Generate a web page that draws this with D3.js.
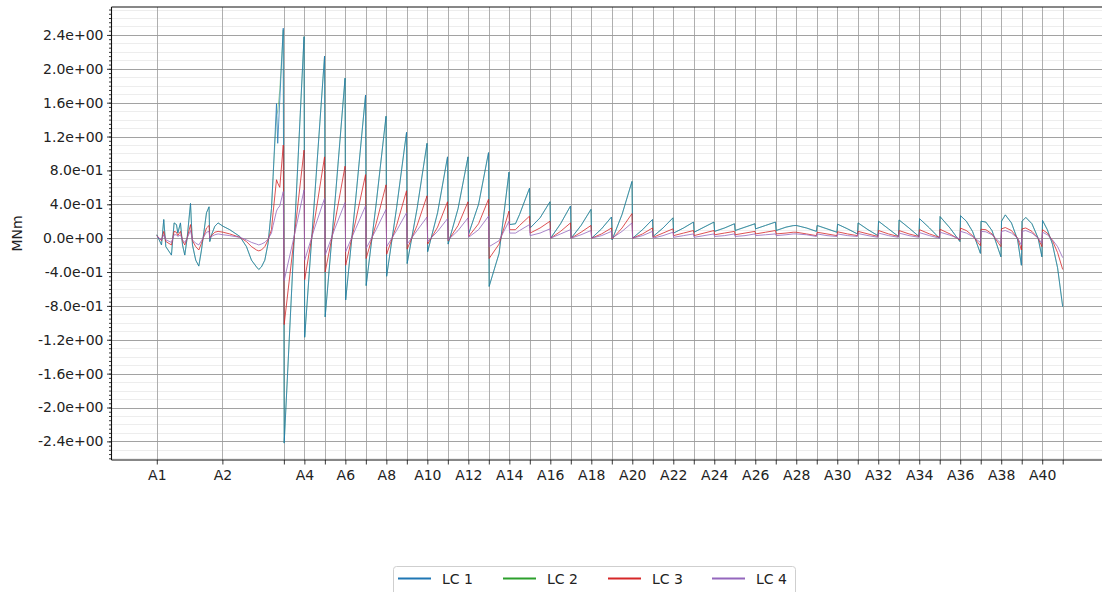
<!DOCTYPE html>
<html><head><meta charset="utf-8">
<script src="https://cdn.jsdelivr.net/npm/d3@7"></script>
<style>html,body{margin:0;padding:0;background:#fff;} svg{display:block;font-family:"DejaVu Sans",sans-serif;}</style>
</head><body><svg id="c" width="1102" height="592"></svg>
<script>
// ---------- data ----------
const supportLabels = ["A1","A2","A3","A4","A5","A6","A7","A8","A9","A10","A11","A12","A13","A14","A15","A16","A17","A18","A19","A20","A21","A22","A23","A24","A25","A26","A27","A28","A29","A30","A31","A32","A33","A34","A35","A36","A37","A38","A39","A40","A41"];
const supportX = [0,64,124,144,164,184,204,224,244,264,284,304,324,344,364,384,404,424,444,464,484,504,524,544,564,584,604,624,644,664,684,704,724,744,764,784,804,824,844,864,884];
const labeledSupports = ["A1","A2","A4","A6","A8","A10","A12","A14","A16","A18","A20","A22","A24","A26","A28","A30","A32","A34","A36","A38","A40"];
const yTickValues = [-2.4,-2.0,-1.6,-1.2,-0.8,-0.4,0,0.4,0.8,1.2,1.6,2.0,2.4];
const seriesNames = ["LC 1","LC 2","LC 3","LC 4"];
const seriesColors = ["#1f77b4","#2ca02c","#d62728","#9467bd"];

// chainage (m) of the result points
const chainage = [
 0,4.6,6.8,8.8,14.3,16.9,19.2,20.5,23.1,25.1,27.3,29.6,32.9,34.8,38.0,41.0,43.6,48.5,51.0,51.7,53.4,56.6,59.8,64.7,71.2,81.0,87.5,92.4,97.3,99.5,102.1,105.4,108.6,111.9,113.5,116.8,118.0,120.0,123.4,
 124.3,134,143.7,144.3,154,163.7,164.3,174,183.7,184.3,194,203.7,204.3,214,223.7,224.3,234,243.7,244.3,254,263.7,264.3,274,283.7,284.3,294,303.7,304.3,314,323.7,324.3,334,343.7,
 344.3,350,354,363.7,364.3,374,383.7,384.3,394,403.7,404.3,414,423.7,424.3,434,443.7,444.3,454,463.7,464.3,474,483.7,484.3,494,503.7,504.3,514,523.7,524.3,534,543.7,544.3,554,563.7,564.3,574,583.7,584.3,594,603.7,604.3,614,621,624,
 634,643.7,644.3,654,663.7,664.3,674,683.7,684.3,694,703.7,704.3,714,723.7,724.3,734,743.7,744.3,754,763.7,764.3,774,783.7,784.3,790,796,803.7,804.3,809,815,823.7,824.3,828,834,840,843.7,844.3,848,854,860,863.7,864.3,869,874,879,884
];
const lc1 = [
 0.04,-0.08,0.22,-0.10,-0.20,0.18,0.16,0.06,0.18,-0.08,-0.20,0.00,0.41,-0.08,-0.26,-0.33,-0.14,0.30,0.37,-0.04,0.04,0.14,0.18,0.14,0.10,0.02,-0.10,-0.26,-0.34,-0.37,-0.34,-0.26,-0.06,0.35,0.73,1.59,1.12,1.63,2.48,
 -2.42,-0.02,2.38,-1.17,0.48,2.15,-0.93,0.45,1.89,-0.73,0.45,1.69,-0.56,0.40,1.44,-0.45,0.36,1.25,-0.30,0.35,1.12,-0.16,0.30,0.96,-0.07,0.35,0.96,0.05,0.40,1.01,-0.57,-0.18,0.78,
 0.16,0.17,0.28,0.59,0.12,0.24,0.43,0.00,0.17,0.38,0.00,0.15,0.34,0.00,0.11,0.25,-0.02,0.28,0.67,0.00,0.10,0.22,0.02,0.12,0.24,0.06,0.12,0.19,0.07,0.13,0.19,0.08,0.12,0.17,0.09,0.13,0.17,0.11,0.15,0.19,0.09,0.13,0.148,0.15,
 0.12,0.08,0.15,0.11,0.07,0.165,0.11,0.05,0.18,0.10,0.03,0.20,0.11,0.02,0.215,0.12,0.02,0.23,0.12,0.00,0.255,0.12,-0.04,0.265,0.20,0.08,-0.18,0.20,0.19,0.09,-0.22,0.20,0.275,0.18,-0.02,-0.32,0.20,0.245,0.17,0.00,-0.22,0.21,0.10,-0.07,-0.35,-0.81
];
const lc2 = [
 0.04,-0.08,0.22,-0.10,-0.20,0.18,0.16,0.06,0.18,-0.08,-0.20,0.00,0.41,-0.08,-0.26,-0.33,-0.14,0.30,0.37,-0.04,0.04,0.14,0.18,0.14,0.10,0.02,-0.10,-0.26,-0.34,-0.37,-0.34,-0.26,-0.06,0.35,0.73,1.45,1.50,1.75,2.46,
 -2.42,-0.02,2.38,-1.17,0.48,2.15,-0.93,0.45,1.89,-0.73,0.45,1.69,-0.56,0.40,1.44,-0.45,0.36,1.25,-0.30,0.35,1.12,-0.16,0.30,0.96,-0.07,0.35,0.96,0.05,0.40,1.01,-0.57,-0.18,0.78,
 0.16,0.17,0.28,0.59,0.12,0.24,0.43,0.00,0.17,0.38,0.00,0.15,0.34,0.00,0.11,0.25,-0.02,0.28,0.67,0.00,0.10,0.22,0.02,0.12,0.24,0.06,0.12,0.19,0.07,0.13,0.19,0.08,0.12,0.17,0.09,0.13,0.17,0.11,0.15,0.19,0.09,0.13,0.148,0.15,
 0.12,0.08,0.15,0.11,0.07,0.165,0.11,0.05,0.18,0.10,0.03,0.20,0.11,0.02,0.215,0.12,0.02,0.23,0.12,0.00,0.255,0.12,-0.04,0.265,0.20,0.08,-0.18,0.20,0.19,0.09,-0.22,0.20,0.275,0.18,-0.02,-0.32,0.20,0.245,0.17,0.00,-0.22,0.21,0.10,-0.07,-0.35,-0.81
];
const lc3 = [
 0.03,-0.03,0.08,-0.04,-0.08,0.08,0.07,0.03,0.08,-0.03,-0.08,0.00,0.16,-0.03,-0.10,-0.14,-0.06,0.12,0.15,0.00,0.03,0.07,0.08,0.07,0.05,0.01,-0.04,-0.10,-0.14,-0.15,-0.14,-0.10,-0.02,0.10,0.30,0.69,0.65,0.60,1.10,
 -1.02,0.00,1.04,-0.49,0.21,0.96,-0.40,0.20,0.85,-0.32,0.20,0.75,-0.24,0.17,0.63,-0.19,0.15,0.56,-0.13,0.15,0.50,-0.07,0.13,0.43,-0.03,0.15,0.43,0.02,0.17,0.46,-0.24,-0.07,0.32,
 0.10,0.10,0.15,0.26,0.06,0.12,0.20,0.00,0.08,0.18,0.00,0.07,0.15,0.00,0.05,0.12,-0.01,0.12,0.29,0.00,0.05,0.12,0.01,0.06,0.11,0.03,0.06,0.09,0.03,0.06,0.09,0.04,0.06,0.08,0.04,0.06,0.08,0.05,0.07,0.09,0.05,0.06,0.07,0.07,
 0.05,0.03,0.07,0.05,0.03,0.075,0.05,0.03,0.08,0.05,0.02,0.09,0.05,0.02,0.09,0.05,0.02,0.10,0.05,0.01,0.105,0.05,-0.02,0.118,0.09,0.03,-0.09,0.105,0.10,0.05,-0.10,0.11,0.125,0.09,0.00,-0.14,0.11,0.12,0.08,0.00,-0.10,0.10,0.06,-0.03,-0.17,-0.37
];
const lc4 = [
 0.02,-0.02,0.04,-0.02,-0.05,0.04,0.04,0.02,0.04,-0.02,-0.05,0.00,0.09,-0.02,-0.06,-0.08,-0.03,0.07,0.08,0.00,0.02,0.04,0.05,0.04,0.03,0.01,-0.02,-0.05,-0.07,-0.08,-0.07,-0.05,-0.01,0.06,0.15,0.32,0.35,0.38,0.55,
 -0.50,0.02,0.57,-0.26,0.12,0.47,-0.20,0.12,0.42,-0.16,0.11,0.38,-0.12,0.10,0.34,-0.10,0.09,0.30,-0.07,0.09,0.25,-0.04,0.08,0.23,-0.02,0.09,0.24,0.01,0.10,0.26,-0.10,-0.03,0.20,
 0.06,0.06,0.09,0.16,0.03,0.06,0.11,0.00,0.05,0.10,0.00,0.04,0.09,0.00,0.03,0.08,0.00,0.08,0.18,0.00,0.03,0.08,0.00,0.03,0.07,0.01,0.03,0.05,0.01,0.03,0.05,0.02,0.03,0.05,0.02,0.03,0.05,0.03,0.04,0.05,0.03,0.04,0.05,0.05,
 0.04,0.02,0.05,0.03,0.02,0.05,0.03,0.02,0.055,0.03,0.01,0.06,0.03,0.01,0.06,0.03,0.01,0.065,0.03,0.00,0.07,0.035,-0.01,0.08,0.06,0.02,-0.05,0.08,0.075,0.04,-0.06,0.08,0.09,0.06,0.00,-0.08,0.08,0.09,0.06,0.00,-0.06,0.07,0.04,-0.02,-0.10,-0.23
];
const seriesValues = [lc1, lc2, lc3, lc4];

// ---------- chart ----------
const svg = d3.select("#c");
const P = {left:111.5, right:1108, top:7, bottom:460};
const x = d3.scaleLinear().domain([-44.2, 928.2]).range([P.left, P.right]);
const y = d3.scaleLinear().domain([-2.62, 2.73]).range([P.bottom, P.top]);

svg.append("defs").append("clipPath").attr("id","clip")
  .append("rect").attr("x",P.left).attr("y",P.top).attr("width",P.right-P.left).attr("height",P.bottom-P.top);

const fmt = v => {
  const s = (Math.abs(v) < 1e-9 ? 0 : v).toExponential(1);
  const [m, e] = s.split("e");
  const sign = e[0] === "-" ? "-" : "+";
  const n = e.replace(/[+-]/, "");
  return m + "e" + sign + (n.length < 2 ? "0" + n : n);
};

const minorY = d3.range(-2.6, 2.71, 0.05).map(v => +v.toFixed(2));
const minorGridY = d3.range(-2.6, 2.71, 0.1).map(v => +v.toFixed(2));

// grids
const grid = svg.append("g");
grid.selectAll("line.mn").data(minorGridY).join("line")
  .attr("x1",P.left).attr("x2",P.right)
  .attr("y1",d=>Math.round(y(d))+0.5).attr("y2",d=>Math.round(y(d))+0.5)
  .attr("stroke","#ededed").attr("stroke-width",1);
grid.selectAll("line.vx").data(supportX).join("line")
  .attr("y1",P.top).attr("y2",P.bottom)
  .attr("x1",d=>Math.round(x(d))+0.5).attr("x2",d=>Math.round(x(d))+0.5)
  .attr("stroke","#a6a6a6").attr("stroke-width",0.9);
grid.selectAll("line.my").data(yTickValues).join("line")
  .attr("x1",P.left).attr("x2",P.right)
  .attr("y1",d=>Math.round(y(d))+0.5).attr("y2",d=>Math.round(y(d))+0.5)
  .attr("stroke","#9a9a9a").attr("stroke-width",0.9);

// lines
const line = d3.line().x(d=>x(d[0])).y(d=>y(d[1]));
const drawOrder = [1,0,2,3];
const opac = [0.75, 0.45, 0.8, 0.8];
const lg = svg.append("g").attr("clip-path","url(#clip)");
drawOrder.forEach(i => {
  const pts = chainage.map((c,k)=>[c, seriesValues[i][k]]);
  lg.append("path").datum(pts).attr("d", line)
    .attr("fill","none").attr("stroke", seriesColors[i])
    .attr("stroke-width",1).attr("stroke-opacity",opac[i])
    .attr("stroke-linejoin","round");
});

// axes
const yAxis = svg.append("g").attr("transform",`translate(${P.left},0)`)
  .call(d3.axisLeft(y).tickValues(yTickValues).tickFormat(fmt).tickSize(4.5).tickPadding(3.5));
const yMinor = svg.append("g").attr("transform",`translate(${P.left},0)`)
  .call(d3.axisLeft(y).tickValues(minorY).tickFormat("").tickSize(2.5));
const xAxis = svg.append("g").attr("transform",`translate(0,${P.bottom})`)
  .call(d3.axisBottom(x).tickValues(supportX)
    .tickFormat((d,i)=> labeledSupports.includes(supportLabels[i]) ? supportLabels[i] : "")
    .tickSize(4.5).tickPadding(6));
[yAxis, yMinor, xAxis].forEach(g => {
  g.select(".domain").remove();
  g.selectAll(".tick line").attr("stroke","#222").attr("stroke-width",0.9);
  g.selectAll("text").attr("fill","#222").style("font-size","14px").style("font-family","'DejaVu Sans', sans-serif");
});

// spines
svg.append("line").attr("x1",P.left).attr("x2",P.left).attr("y1",P.top).attr("y2",P.bottom).attr("stroke","#111").attr("stroke-width",1.1);
svg.append("line").attr("x1",P.left).attr("x2",P.right).attr("y1",P.bottom).attr("y2",P.bottom).attr("stroke","#111").attr("stroke-width",1.1);
svg.append("line").attr("x1",P.left).attr("x2",P.right).attr("y1",P.top).attr("y2",P.top).attr("stroke","#111").attr("stroke-width",1.1);

// y label
svg.append("text").attr("transform",`translate(22,${(P.top+P.bottom)/2}) rotate(-90)`)
  .attr("text-anchor","middle").attr("fill","#222").style("font-size","14px").text("MNm");

// legend
const L = svg.append("g");
L.append("rect").attr("x",393.5).attr("y",566.5).attr("width",402).attr("height",40).attr("rx",3)
  .attr("fill","#fff").attr("stroke","#cfcfcf").attr("stroke-width",1);
const legX = [398, 503, 608, 712];
seriesNames.forEach((n,i) => {
  L.append("line").attr("x1",legX[i]).attr("x2",legX[i]+33).attr("y1",578.5).attr("y2",578.5)
    .attr("stroke",seriesColors[i]).attr("stroke-width",2);
  L.append("text").attr("x",legX[i]+44).attr("y",583.5).attr("fill","#222").style("font-size","14px").text(n);
});
</script>
</body></html>
